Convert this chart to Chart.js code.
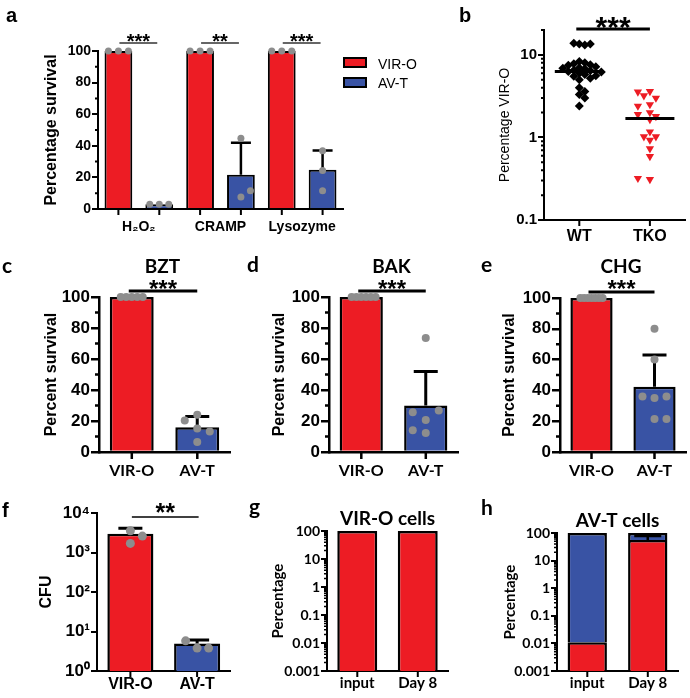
<!DOCTYPE html>
<html>
<head>
<meta charset="utf-8">
<script src="https://cdn.jsdelivr.net/npm/chart.js@4.4.1/dist/chart.umd.min.js"></script>
<style>
  html, body { margin: 0; padding: 0; background: #fff; }
  #fig { position: relative; width: 690px; height: 698px; overflow: hidden; background: #fff; }
  #fig canvas { position: absolute; }
  .txt { position: absolute; white-space: nowrap; color: #000; }
  .box { position: absolute; border: 2px solid #000; }
</style>
</head>
<body>
<div id="fig">
  <canvas id="cA" width="420" height="240" style="left:0;top:0;width:420px;height:240px"></canvas>
  <canvas id="cB" width="270" height="250" style="left:420px;top:0;width:270px;height:250px"></canvas>
  <canvas id="cC" width="235" height="245" style="left:0;top:240px;width:235px;height:245px"></canvas>
  <canvas id="cD" width="232" height="245" style="left:230px;top:240px;width:232px;height:245px"></canvas>
  <canvas id="cE" width="230" height="245" style="left:460px;top:240px;width:230px;height:245px"></canvas>
  <canvas id="cF" width="235" height="213" style="left:0;top:485px;width:235px;height:213px"></canvas>
  <canvas id="cG" width="232" height="213" style="left:230px;top:485px;width:232px;height:213px"></canvas>
  <canvas id="cH" width="230" height="213" style="left:460px;top:485px;width:230px;height:213px"></canvas>

  <!-- panel letters -->
  <div class="txt" style="left:6px;top:5px;font:bold 20px/20px 'Liberation Sans'">a</div>
  <div class="txt" style="left:459px;top:5px;font:bold 20px/20px 'Liberation Sans'">b</div>
  <div class="txt" style="left:2px;top:254px;font:bold 21px/21px Lato">c</div>
  <div class="txt" style="left:247px;top:253px;font:bold 21px/21px Lato">d</div>
  <div class="txt" style="left:481px;top:253px;font:bold 21px/21px Lato">e</div>
  <div class="txt" style="left:2px;top:500px;font:bold 20px/20px 'Liberation Sans'">f</div>
  <div class="txt" style="left:249px;top:495px;font:bold 21px/21px Lato">g</div>
  <div class="txt" style="left:481px;top:496px;font:bold 21px/21px Lato">h</div>

  <!-- legend of panel a -->
  <div class="box" style="left:343px;top:57px;width:20px;height:7px;background:#ED1C24"></div>
  <div class="box" style="left:343px;top:77px;width:20px;height:7px;background:#3953A4"></div>
  <div class="txt" id="legA1" style="left:378px;top:57px;font:14px/14px 'Liberation Sans'"></div>
  <div class="txt" id="legA2" style="left:378px;top:76px;font:14px/14px 'Liberation Sans'"></div>
</div>
<script>
// ================= DATA =================
const RED = '#ED1C24', BLUE = '#3953A4', GREY = '#8D8D8D';

// ---- panel a ----
const aCategories = ['H₂O₂', 'CRAMP', 'Lysozyme'];
const aSeries = ['VIR-O', 'AV-T'];
const aVirMean = [100, 100, 100];
const aAvtMean = [3, 21.6, 24.8];
const aVirErr = [null, null, null];
const aAvtErr = [null, 42, 37];
const aVirPoints = [[100, 100, 100], [100, 100, 100], [100, 100, 100]];
const aAvtPoints = [[3, 3, 3], [7.6, 11.6, 44.7], [36.8, 24.4, 11.6]];
const aStars = ['***', '**', '***'];
const pctTicks = [0, 20, 40, 60, 80, 100];
const pctLabels = ['0', '20', '40', '60', '80', '100'];
const pctMinor = [10, 30, 50, 70, 90];

// ---- panel b ----
const bCategories = ['WT', 'TKO'];
const bWT = [13.5, 13.2, 13.8, 13.5, 8.3, 8.0, 7.8, 7.6, 7.5, 7.2, 7.0, 6.9, 6.8, 6.5,
             6.4, 6.3, 6.2, 6.0, 5.8, 5.6, 5.5, 5.2, 5.0, 4.0, 3.6, 3.3, 3.0, 2.4];
const bTKO = [3.6, 3.55, 3.2, 3.0, 2.5, 2.4, 2.0, 1.9, 1.8, 1.65, 1.17, 1.02, 0.93, 1.02,
              0.73, 0.59, 0.31, 0.32];
const bMedians = [6.3, 1.7];
const bTicks = [0.1, 1, 10];
const bTickLabels = ['0.1', '1', '10'];
const bStars = '***';

// ---- panels c, d, e ----
const cdeCategories = ['VIR-O', 'AV-T'];
const cTitle = 'BZT', dTitle = 'BAK', eTitle = 'CHG';
const cMean = [100, 16.0];
const cErr = [null, 22.9];
const cVirPoints = [100, 100, 100, 100, 100];
const cAvtPoints = [24, 15.2, 6.4, 20.3, 13.3];
const dMean = [100, 30];
const dErr = [null, 52];
const dVirPoints = [100, 100, 100, 100, 100, 100];
const dAvtPoints = [73.5, 20.6, 12.3, 25.6, 26.7, 14];
const eMean = [100, 42.4];
const eErr = [null, 63];
const eVirPoints = [100, 100, 100, 100, 100, 100, 100];
const eAvtPoints = [80, 60, 35, 36, 36, 21.5, 21.5];
const cdeStars = '***';

// ---- panel f ----
const fCategories = ['VIR-O', 'AV-T'];
const fMean = [3000, 5.0];
const fErr = [4100, 6.1];
const fVirPoints = [3550, 2600, 1700];
const fAvtPoints = [3.8, 3.8, 5.8];
const fTicks = [1, 10, 100, 1000, 10000];
const fTickLabels = ['10⁰', '10¹', '10²', '10³', '10⁴'];
const fStars = '**';

// ---- panels g, h ----
const ghCategories = ['input', 'Day 8'];
const gTitle = 'VIR-O cells', hTitle = 'AV-T cells';
const gVir = [100, 100];
const hVir = [0.011, 56];
const hVirErr = [null, 78];
const hAvt = [99.989, 44];
const ghTicks = [0.001, 0.01, 0.1, 1, 10, 100];
const ghTickLabels = ['0.001', '0.01', '0.1', '1', '10', '100'];

document.getElementById('legA1').textContent = aSeries[0];
document.getElementById('legA2').textContent = aSeries[1];

// ================= HELPERS =================
const ARIAL = "'Liberation Sans', Arial, sans-serif";
const CALI = "Lato, 'Liberation Sans', sans-serif";
Chart.defaults.font.family = ARIAL;
Chart.defaults.color = '#000';

function F(size, weight, family) { return {size, weight: weight || 'bold', family: family || ARIAL, lineHeight: 1.2}; }

function logMinor(min, max) {
  const out = [];
  for (let e = Math.floor(Math.log10(min)); e <= Math.ceil(Math.log10(max)); e++) {
    for (let m = 2; m <= 9; m++) {
      const v = m * Math.pow(10, e);
      if (v > min * 1.0001 && v < max * 1.0001) out.push(v);
    }
  }
  return out;
}

function pts(cat, values) { return values.map(v => ({x: cat, y: v})); }

function refX(chart, r) {
  if (r.ds != null) return chart.getDatasetMeta(r.ds).data[r.i].x;
  return chart.scales.x.getPixelForValue(r.i);
}

const decor = {
  id: 'decor',
  afterDatasetsUpdate(chart) {
    const xs = chart.scales.x;
    chart.data.datasets.forEach((ds, di) => {
      if (!ds.swarm) return;
      const meta = chart.getDatasetMeta(di);
      const {s, t, dir} = ds.swarm;
      const placed = {};
      meta.data.forEach((pt, i) => {
        const cat = meta.controller.getParsed(i).x;
        const base = ds.link != null ? chart.getDatasetMeta(ds.link).data[cat].x : xs.getPixelForValue(cat);
        const list = placed[cat] || (placed[cat] = []);
        let dx = 0;
        for (let k = 0; k < 60; k++) {
          const m = k === 0 ? 0 : (k % 2 ? 1 : -1) * Math.ceil(k / 2) * dir;
          const cand = m * s;
          if (list.every(p => Math.hypot(p.dx - cand, p.y - pt.y) >= t - 0.01)) { dx = cand; break; }
        }
        list.push({dx, y: pt.y});
        pt.x = base + dx;
      });
    });
  },
  afterDatasetDraw(chart, args, opts) {
    const bars = chart.getSortedVisibleDatasetMetas().filter(m => m.type === 'bar');
    if (!bars.length || args.meta !== bars[0] || !opts.err) return;
    const ctx = chart.ctx, ys = chart.scales.y;
    ctx.save();
    ctx.strokeStyle = '#000';
    ctx.lineWidth = opts.err.lw;
    bars.forEach(m => {
      const ds = chart.data.datasets[m.index];
      if (!ds.errTop) return;
      m.data.forEach((el, i) => {
        const v = ds.errTop[i];
        if (v == null) return;
        const y2 = ys.getPixelForValue(v);
        ctx.beginPath();
        ctx.moveTo(el.x, el.y);
        ctx.lineTo(el.x, y2);
        ctx.moveTo(el.x - opts.err.cap / 2, y2);
        ctx.lineTo(el.x + opts.err.cap / 2, y2);
        ctx.stroke();
      });
    });
    ctx.restore();
  },
  afterDraw(chart, args, opts) {
    const ctx = chart.ctx, xs = chart.scales.x, ys = chart.scales.y, ca = chart.chartArea;
    ctx.save();
    ctx.strokeStyle = '#000';
    ctx.fillStyle = '#000';
    if (opts.minor) {
      ctx.lineWidth = opts.minor.lw;
      ctx.beginPath();
      opts.minor.values.forEach(v => {
        const y = ys.getPixelForValue(v);
        ctx.moveTo(ca.left - opts.minor.len, y);
        ctx.lineTo(ca.left, y);
      });
      ctx.stroke();
    }
    if (opts.xTicks) {
      const list = [];
      const bars = chart.getSortedVisibleDatasetMetas().filter(m => m.type === 'bar');
      if (bars.length) bars.forEach(m => m.data.forEach(el => list.push(Math.round(el.x * 10) / 10)));
      else chart.data.labels.forEach((l, i) => list.push(xs.getPixelForValue(i)));
      ctx.lineWidth = opts.xTicks.lw;
      ctx.beginPath();
      [...new Set(list)].forEach(x => { ctx.moveTo(x, ca.bottom); ctx.lineTo(x, ca.bottom + opts.xTicks.len); });
      ctx.stroke();
    }
    if (opts.medians) {
      ctx.lineWidth = opts.medians.lw;
      opts.medians.values.forEach((v, i) => {
        const x = xs.getPixelForValue(i), y = ys.getPixelForValue(v);
        ctx.beginPath();
        ctx.moveTo(x - opts.medians.w / 2, y);
        ctx.lineTo(x + opts.medians.w / 2, y);
        ctx.stroke();
      });
    }
    (opts.sig || []).forEach(sg => {
      const xa = refX(chart, sg.a) + (sg.ea || 0), xb = refX(chart, sg.b) + (sg.eb || 0);
      const y = ca.top + sg.lineDy;
      ctx.strokeStyle = sg.color || '#000';
      ctx.lineWidth = sg.lw;
      ctx.beginPath();
      ctx.moveTo(xa, y);
      ctx.lineTo(xb, y);
      ctx.stroke();
      ctx.font = sg.font;
      ctx.textAlign = 'center';
      ctx.textBaseline = 'alphabetic';
      ctx.fillText(sg.text, (xa + xb) / 2 + (sg.tdx || 0), ca.top + sg.textDy);
    });
    if (opts.title) {
      ctx.font = opts.title.font;
      ctx.textAlign = 'center';
      ctx.textBaseline = 'alphabetic';
      ctx.fillText(opts.title.text, (ca.left + ca.right) / 2 + (opts.title.dx || 0), ca.top + opts.title.dy);
    }
    ctx.restore();
  }
};

function yScale(o) {
  return {
    type: o.type || 'linear', min: o.min, max: o.max, stacked: !!o.stacked,
    afterBuildTicks: s => { s.ticks = o.ticks.map(v => ({value: v})); },
    afterFit: s => { s.width = o.width; },
    border: {display: true, color: '#000', width: o.lw},
    grid: {display: true, drawOnChartArea: false, drawTicks: true, tickLength: o.tickLen, color: '#000', lineWidth: o.lw},
    ticks: {color: '#000', font: o.font, padding: o.pad == null ? 1 : o.pad, autoSkip: false,
            callback: (v, i) => o.labels[i]},
    title: {display: true, text: o.title, color: '#000', font: o.titleFont, padding: {top: 0, bottom: 0}}
  };
}
function xScale(o) {
  return {
    type: 'category', offset: true, stacked: !!o.stacked,
    afterFit: s => { s.height = o.height; },
    border: {display: true, color: '#000', width: o.lw},
    grid: {display: false, drawTicks: false},
    ticks: {color: '#000', font: o.font, padding: o.pad, autoSkip: false, maxRotation: 0, minRotation: 0}
  };
}
function opts(pad, scales, decorOpts) {
  return {
    responsive: false, maintainAspectRatio: false, devicePixelRatio: 1, animation: false, events: [],
    layout: {padding: pad},
    plugins: {legend: {display: false}, tooltip: {enabled: false}, title: {display: false}, decor: decorOpts},
    scales
  };
}
function scatterDs(data, link, swarm, r, color, style, rot) {
  return {type: 'scatter', data, link, swarm, order: 0, clip: false,
          pointRadius: r, pointHoverRadius: r, pointStyle: style || 'circle', pointRotation: rot || 0,
          pointBackgroundColor: color, pointBorderColor: color, pointBorderWidth: 0};
}

// ================= PANEL a =================
new Chart(document.getElementById('cA'), {
  type: 'bar',
  data: {
    labels: aCategories,
    datasets: [
      scatterDs(aVirPoints.flatMap((a, i) => pts(aCategories[i], a)), 2, {s: 10, t: 9, dir: 1}, 3.5, GREY),
      scatterDs(aAvtPoints.flatMap((a, i) => pts(aCategories[i], a)), 3, {s: 9.5, t: 9, dir: 1}, 3.5, GREY),
      {type: 'bar', label: aSeries[0], data: aVirMean, errTop: aVirErr, backgroundColor: RED, borderColor: '#000',
       borderWidth: 2, categoryPercentage: 1, barPercentage: 0.68, order: 1, clip: false},
      {type: 'bar', label: aSeries[1], data: aAvtMean, errTop: aAvtErr, backgroundColor: BLUE, borderColor: '#000',
       borderWidth: 2, categoryPercentage: 1, barPercentage: 0.68, order: 1, clip: false}
    ]
  },
  options: opts({left: 42, top: 51, right: 77, bottom: 0}, {
    x: xScale({height: 31, lw: 2, font: F(14), pad: 10}),
    y: yScale({min: 0, max: 100, ticks: pctTicks, labels: pctLabels, width: 56, lw: 2, tickLen: 6,
               font: F(14), title: 'Percentage survival', titleFont: F(16)})
  }, {
    minor: {values: pctMinor, len: 3, lw: 2},
    xTicks: {len: 6, lw: 2},
    err: {lw: 2.5, cap: 20},
    sig: aStars.map((s, i) => ({a: {ds: 2, i}, b: {ds: 3, i}, ea: 1, eb: -2, lineDy: -8, lw: 1.3, color: '#333',
                                text: s, font: "bold 20px 'Liberation Sans'", textDy: -3}))
  }),
  plugins: [decor]
});

// ================= PANEL b =================
new Chart(document.getElementById('cB'), {
  type: 'scatter',
  data: {
    labels: bCategories,
    datasets: [
      scatterDs(pts(bCategories[0], bWT), null, {s: 5.5, t: 5.5, dir: 1}, 4.5, '#000', 'rectRot'),
      scatterDs(pts(bCategories[1], bTKO), null, {s: 6, t: 6.5, dir: -1}, 4.8, RED, 'triangle', 180)
    ]
  },
  options: opts({left: 77, top: 30, right: 3, bottom: 0}, {
    x: xScale({height: 30, lw: 2, font: F(16), pad: 7}),
    y: yScale({type: 'logarithmic', min: 0.1, max: 20, ticks: bTicks, labels: bTickLabels, width: 47, lw: 2,
               tickLen: 6, font: F(15), title: 'Percentage VIR-O', titleFont: F(14, 'normal')})
  }, {
    minor: {values: logMinor(0.1, 20), len: 3, lw: 2},
    xTicks: {len: 6, lw: 2},
    medians: {values: bMedians, w: 49, lw: 3},
    sig: [{a: {i: 0}, b: {i: 1}, ea: -3, eb: 0, lineDy: -1, lw: 3, text: bStars,
           font: "bold 30px 'Liberation Sans'", textDy: 7}]
  }),
  plugins: [decor]
});

// ================= PANELS c, d, e =================
function survival(id, pad, yw, mean, err, virPts, avtPts, virSwarm, avtSwarm, title, titleDy, starsDy, lineDy) {
  new Chart(document.getElementById(id), {
    type: 'bar',
    data: {
      labels: cdeCategories,
      datasets: [
        scatterDs(pts(cdeCategories[0], virPts), 2, virSwarm, 4, GREY),
        scatterDs(pts(cdeCategories[1], avtPts), 2, avtSwarm, 4, GREY),
        {type: 'bar', data: mean, errTop: err, backgroundColor: [RED, BLUE], borderColor: '#000', borderWidth: 2.5,
         categoryPercentage: 1, barPercentage: 0.67, order: 1, clip: false}
      ]
    },
    options: opts(pad, {
      x: xScale({height: 33, lw: 2.5, font: F(16, 'bold', CALI), pad: 9}),
      y: yScale({min: 0, max: 100, ticks: pctTicks, labels: pctLabels, width: yw, lw: 2.5, tickLen: 8,
                 font: F(17), title: 'Percent survival', titleFont: F(16)})
    }, {
      minor: {values: pctMinor, len: 4, lw: 2.5},
      xTicks: {len: 7, lw: 2.5},
      err: {lw: 3, cap: 24},
      sig: [{a: {ds: 2, i: 0}, b: {ds: 2, i: 1}, ea: -3, eb: 0, lineDy: lineDy, lw: 3, text: cdeStars,
             font: "bold 24px 'Liberation Sans'", textDy: starsDy}],
      title: {text: title, font: 'bold 19px ' + CALI, dy: titleDy, dx: -2}
    }),
    plugins: [decor]
  });
}
survival('cC', {left: 42, top: 57, right: 5, bottom: 0}, 57, cMean, cErr, cVirPoints, cAvtPoints,
         {s: 5.5, t: 5.5, dir: 1}, {s: 12.5, t: 11, dir: -1}, cTitle, -24, 0, -6);
survival('cD', {left: 40, top: 57, right: 2, bottom: 0}, 59, dMean, dErr, dVirPoints, dAvtPoints,
         {s: 4.8, t: 4.8, dir: 1}, {s: 13, t: 10, dir: -1}, dTitle, -24, 0, -6);
survival('cE', {left: 40, top: 58, right: 1, bottom: 0}, 60, eMean, eErr, eVirPoints, eAvtPoints,
         {s: 3.7, t: 3.7, dir: 1}, {s: 12, t: 10, dir: 1}, eTitle, -25, -1, -6);

// ================= PANEL f =================
new Chart(document.getElementById('cF'), {
  type: 'bar',
  data: {
    labels: fCategories,
    datasets: [
      scatterDs(pts(fCategories[0], fVirPoints), 2, {s: 12, t: 9, dir: 1}, 4.5, GREY),
      scatterDs(pts(fCategories[1], fAvtPoints), 2, {s: 11.5, t: 9, dir: 1}, 4.5, GREY),
      {type: 'bar', data: fMean, errTop: fErr, backgroundColor: [RED, BLUE], borderColor: '#000', borderWidth: 2.5,
       categoryPercentage: 1, barPercentage: 0.69, order: 1, clip: false}
    ]
  },
  options: opts({left: 37, top: 28, right: 2, bottom: 0}, {
    x: xScale({height: 27, lw: 2, font: F(16), pad: 4}),
    y: yScale({type: 'logarithmic', min: 1, max: 10000, ticks: fTicks, labels: fTickLabels, width: 60, lw: 2,
               tickLen: 6, font: F(17), title: 'CFU', titleFont: F(16)})
  }, {
    xTicks: {len: 6, lw: 2},
    err: {lw: 3, cap: 24},
    sig: [{a: {ds: 2, i: 0}, b: {ds: 2, i: 1}, ea: 1.5, eb: 1.5, lineDy: 4, lw: 1.5, text: fStars,
           font: "bold 25px 'Liberation Sans'", textDy: 8}]
  }),
  plugins: [decor]
});

// ================= PANELS g, h =================
function composition(id, pad, yw, datasets, title, stacked, err) {
  new Chart(document.getElementById(id), {
    type: 'bar',
    data: {labels: ghCategories, datasets},
    options: opts(pad, {
      x: xScale({height: 27, lw: 2, font: F(15, 'bold', CALI), pad: 3, stacked}),
      y: yScale({type: 'logarithmic', min: 0.001, max: 100, stacked, ticks: ghTicks, labels: ghTickLabels,
                 width: yw, lw: 2, tickLen: 6, font: F(14, 'bold', CALI), title: 'Percentage',
                 titleFont: F(15, 'bold', CALI)})
    }, {
      minor: {values: logMinor(0.001, 100), len: 3, lw: 1.5},
      xTicks: {len: 6, lw: 2},
      err: err,
      title: {text: title, font: 'bold 19px ' + CALI, dy: -6}
    }),
    plugins: [decor]
  });
}
composition('cG', {left: 39, top: 46, right: 14, bottom: 0}, 58, [
  {type: 'bar', data: gVir, backgroundColor: RED, borderColor: '#000', borderWidth: 2.5,
   categoryPercentage: 1, barPercentage: 0.66, order: 1, clip: false}
], gTitle, false, null);
composition('cH', {left: 41, top: 48, right: 12, bottom: 0}, 56, [
  {type: 'bar', data: hVir, errTop: hVirErr, backgroundColor: RED, borderColor: '#000', borderWidth: 2.5,
   categoryPercentage: 1, barPercentage: 0.65, order: 1, clip: false},
  {type: 'bar', data: hAvt, backgroundColor: BLUE, borderColor: '#000', borderWidth: 2.5,
   categoryPercentage: 1, barPercentage: 0.65, order: 1, clip: false}
], hTitle, true, {lw: 2.5, cap: 27});
</script>
</body>
</html>
